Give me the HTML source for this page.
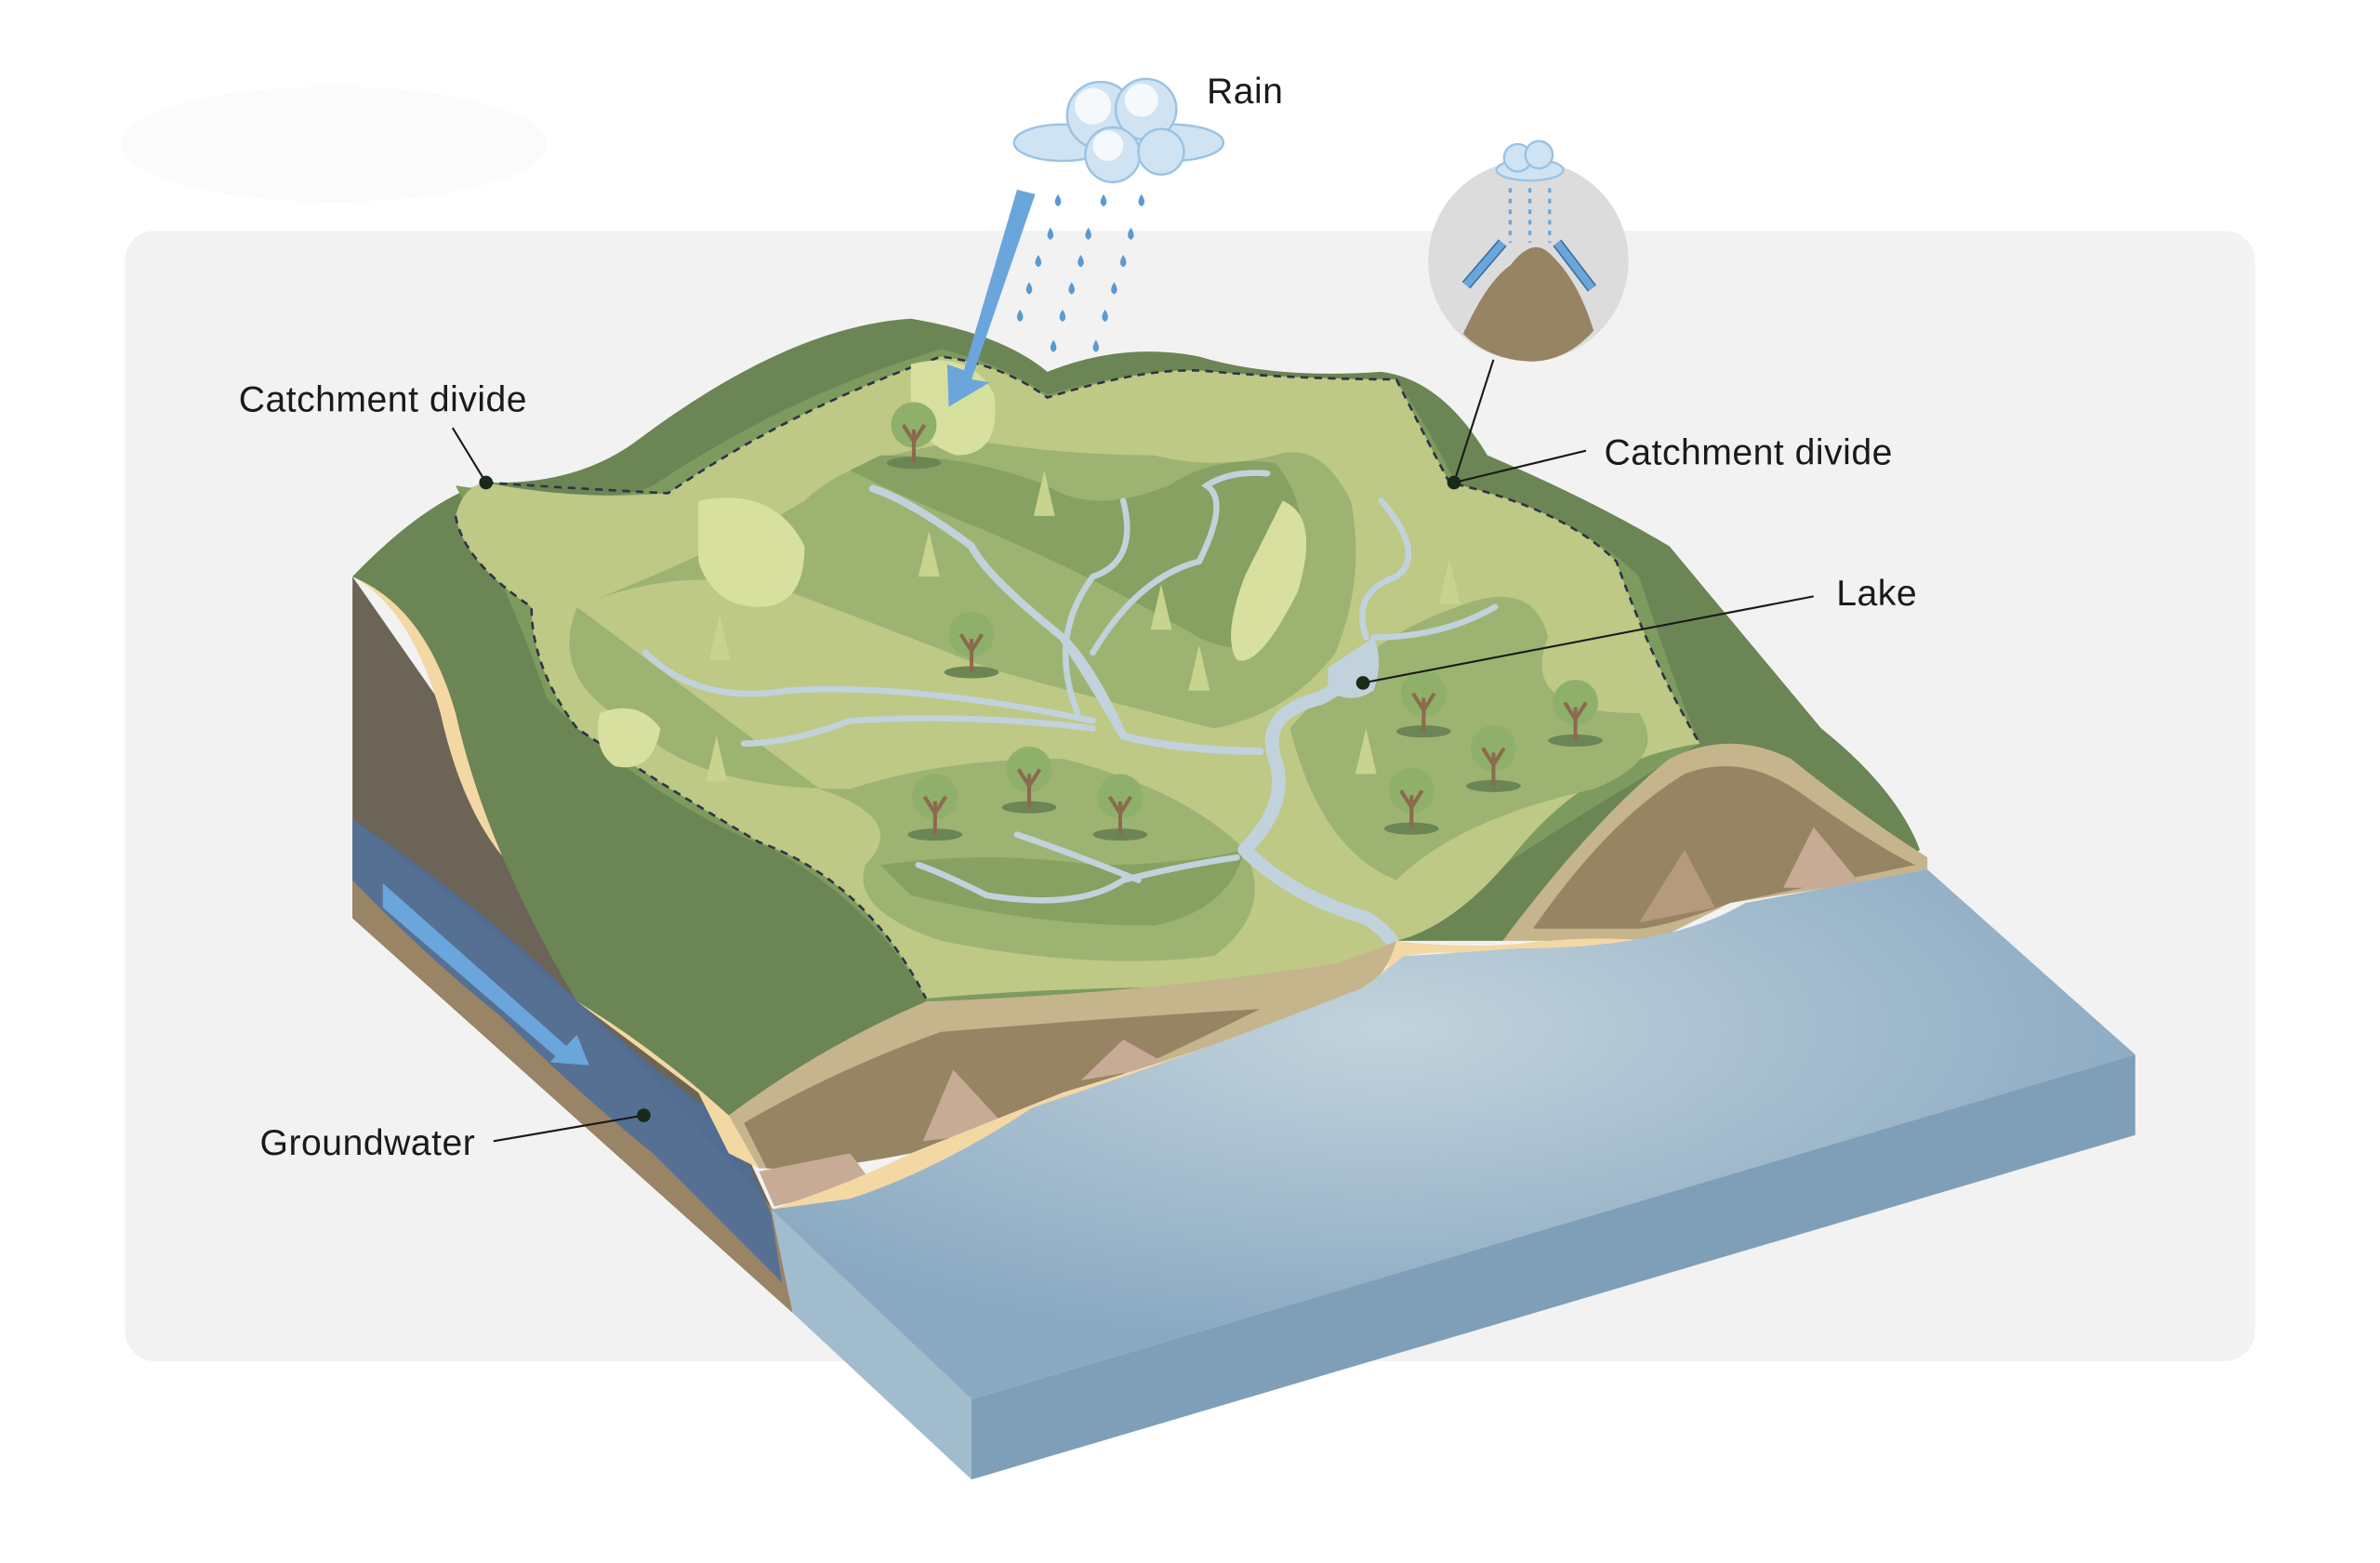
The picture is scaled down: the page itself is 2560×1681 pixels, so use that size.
<!DOCTYPE html>
<html><head><meta charset="utf-8"><style>
html,body{margin:0;padding:0;background:#fff;}
svg{display:block;}
text{font-family:"Liberation Sans",sans-serif;fill:#1a1a1a;font-size:24px;letter-spacing:0.3px;}
</style></head><body>
<svg width="2560" height="1681" viewBox="0 0 1568 1030" xmlns="http://www.w3.org/2000/svg">
<defs>
<radialGradient id="wr" cx="0.45" cy="0.3" r="0.6"><stop offset="0" stop-color="#c3d3dc"/><stop offset="1" stop-color="#89a9c2"/></radialGradient>
</defs>
<rect width="1568" height="1030" fill="#fff"/>
<ellipse cx="220" cy="95" rx="140" ry="38" fill="#fbfbfb"/>
<rect x="82" y="152" width="1404" height="745" rx="20" fill="#f2f2f2"/>

<path d="M232,380 L232,605 L522,865 L510,800 L480,735 Z" fill="#6c6457"/>
<path d="M232,540 L232,605 L522,865 L512,800 L420,700 Q360,640 232,540 Z" fill="#9a8466"/>
<path d="M232,540 Q300,585 360,640 Q420,700 480,740 L508,800 L515,845 Q470,800 430,760 Q380,720 330,670 Q280,630 232,580 Z" fill="#4f6e99" opacity="0.9"/>
<path d="M252,582 L385,700 L368,698 L252,598 Z" fill="#6aa6db"/>
<path d="M380,682 L388,702 L362,700 Z" fill="#6aa6db"/>
<path d="M232,380 Q270,400 290,470 Q310,560 360,590 Q375,620 380,660 Q420,690 460,720 L480,760 L500,770 L485,735 Q450,690 400,665 Q380,640 370,600 Q330,560 320,480 Q300,400 232,380 Z" fill="#f3d8a4"/>

<path d="M232,380 Q280,330 320,318 Q380,320 420,290 Q520,215 600,210 Q660,220 690,245 Q740,225 790,235 Q840,250 910,245 Q950,250 980,300 Q1050,330 1100,360 Q1150,420 1200,480 Q1250,520 1265,560 L1240,580 Q1150,560 1100,595 L990,620 L920,620 Q900,650 820,670 Q700,690 610,660 L500,740 L480,735 Q430,690 380,660 Q320,560 300,470 Q280,400 232,380 Z" fill="#6b8554"/>
<path d="M300,320 Q400,335 430,320 Q520,260 620,230 Q660,240 690,260 Q760,240 800,245 Q860,255 920,250 Q940,280 960,320 Q1040,340 1080,380 Q1110,470 1120,490 Q1000,560 920,620 Q880,650 820,660 Q700,660 610,660 Q580,600 510,560 Q430,530 360,460 Q340,400 300,320 Z" fill="#7d9a5f"/>
<path d="M320,318 Q380,330 440,325 Q520,270 620,235 Q660,240 690,262 Q760,240 800,245 Q860,250 920,250 Q940,290 955,318 Q1030,335 1065,370 Q1090,440 1120,490 Q1050,500 1000,560 Q960,610 920,620 Q880,640 820,650 Q700,650 610,658 Q570,580 500,555 Q440,520 380,480 Q350,440 350,400 Q305,370 300,340 Q305,320 320,318 Z" fill="#bdc985"/>
<path d="M320,318 Q380,322 440,325 Q520,270 620,235 Q660,240 690,262 Q760,240 800,245 Q860,250 920,250 Q940,290 955,318 Q1030,335 1065,370 Q1090,440 1120,490 M300,340 Q305,370 350,400 Q350,440 380,480 Q440,520 500,555 Q570,580 610,658" fill="none" stroke="#2f3346" stroke-width="1.6" stroke-dasharray="5,4"/>
<path d="M380,400 Q450,370 520,390 Q600,420 650,440 Q720,460 800,480 Q850,470 880,430 Q900,380 890,330 Q870,290 840,300 Q800,310 760,300 Q700,300 640,290 Q560,300 530,330 Q480,360 380,400 Z" fill="#9db372"/>
<path d="M380,400 Q360,450 420,480 Q460,520 560,520 Q620,500 700,500 Q780,520 820,560 Q840,600 800,630 Q720,640 620,620 Q560,600 570,570 Q600,540 540,520 Z" fill="#9db372"/>
<path d="M850,480 Q900,420 960,400 Q1010,380 1020,420 Q1000,470 1080,470 Q1100,500 1050,520 Q960,540 920,580 Q870,560 850,480 Z" fill="#9db372"/>
<path d="M560,310 Q600,330 650,350 Q720,380 790,420 Q830,440 850,400 Q870,340 840,305 Q800,300 770,320 Q720,340 690,320 Q640,300 580,300 Z" fill="#86a161"/>
<path d="M580,570 Q650,560 720,570 Q780,570 820,560 Q810,600 760,610 Q680,610 600,590 Z" fill="#86a161"/>
<path d="M460,330 Q510,320 530,360 Q530,400 500,400 Q470,400 460,370 Z" fill="#d7e09e"/>
<path d="M600,240 Q640,230 655,260 Q660,300 630,300 Q600,290 600,260 Z" fill="#d7e09e"/>
<path d="M395,470 Q420,460 435,480 Q430,510 405,505 Q390,495 395,470 Z" fill="#d7e09e"/>
<path d="M845,330 Q870,340 855,390 Q830,440 815,435 Q805,420 820,380 Z" fill="#d7e09e"/>
<g fill="none" stroke="#c2d2dc" stroke-linecap="round">
<path d="M820,560 Q850,530 840,500 Q830,470 870,460 Q890,450 900,435" stroke-width="9"/>
<path d="M820,560 Q850,590 900,605 Q925,620 920,640" stroke-width="9"/>
<path d="M830,495 Q780,495 740,485 Q720,450 700,420 Q650,380 640,360 Q600,330 575,322" stroke-width="5"/>
<path d="M740,485 Q720,440 700,420" stroke-width="5"/>
<path d="M720,480 Q640,470 560,475 Q520,490 490,490" stroke-width="4"/>
<path d="M720,475 Q600,450 520,455 Q460,465 425,430" stroke-width="4"/>
<path d="M710,470 Q690,420 720,380 Q750,370 740,330" stroke-width="4"/>
<path d="M720,430 Q750,380 790,370 Q810,330 795,320 Q810,310 835,312" stroke-width="4"/>
<path d="M900,420 Q890,390 920,380 Q940,365 910,330" stroke-width="4"/>
<path d="M905,420 Q950,420 985,400" stroke-width="4"/>
<path d="M815,565 Q780,570 740,580 Q710,600 650,590 Q620,575 605,570" stroke-width="4"/>
<path d="M750,580 Q700,560 670,550" stroke-width="4"/>
</g>
<path d="M875,440 Q890,430 905,420 Q912,435 905,455 Q890,465 875,455 Z" fill="#c2d2dc"/>
<g>
<g transform="translate(602,285)"><ellipse cx="0" cy="20" rx="18" ry="4" fill="#6b8554"/><circle cy="-5" r="15" fill="#8fb06a"/><path d="M0,20 V-2 M0,6 L-7,-5 M0,6 L7,-5" stroke="#8b6a4e" stroke-width="2.5" fill="none"/></g>
<g transform="translate(640,423)"><ellipse cx="0" cy="20" rx="18" ry="4" fill="#6b8554"/><circle cy="-5" r="15" fill="#8fb06a"/><path d="M0,20 V-2 M0,6 L-7,-5 M0,6 L7,-5" stroke="#8b6a4e" stroke-width="2.5" fill="none"/></g>
<g transform="translate(616,530)"><ellipse cx="0" cy="20" rx="18" ry="4" fill="#6b8554"/><circle cy="-5" r="15" fill="#8fb06a"/><path d="M0,20 V-2 M0,6 L-7,-5 M0,6 L7,-5" stroke="#8b6a4e" stroke-width="2.5" fill="none"/></g>
<g transform="translate(678,512)"><ellipse cx="0" cy="20" rx="18" ry="4" fill="#6b8554"/><circle cy="-5" r="15" fill="#8fb06a"/><path d="M0,20 V-2 M0,6 L-7,-5 M0,6 L7,-5" stroke="#8b6a4e" stroke-width="2.5" fill="none"/></g>
<g transform="translate(738,530)"><ellipse cx="0" cy="20" rx="18" ry="4" fill="#6b8554"/><circle cy="-5" r="15" fill="#8fb06a"/><path d="M0,20 V-2 M0,6 L-7,-5 M0,6 L7,-5" stroke="#8b6a4e" stroke-width="2.5" fill="none"/></g>
<g transform="translate(938,462)"><ellipse cx="0" cy="20" rx="18" ry="4" fill="#6b8554"/><circle cy="-5" r="15" fill="#8fb06a"/><path d="M0,20 V-2 M0,6 L-7,-5 M0,6 L7,-5" stroke="#8b6a4e" stroke-width="2.5" fill="none"/></g>
<g transform="translate(1038,468)"><ellipse cx="0" cy="20" rx="18" ry="4" fill="#6b8554"/><circle cy="-5" r="15" fill="#8fb06a"/><path d="M0,20 V-2 M0,6 L-7,-5 M0,6 L7,-5" stroke="#8b6a4e" stroke-width="2.5" fill="none"/></g>
<g transform="translate(984,498)"><ellipse cx="0" cy="20" rx="18" ry="4" fill="#6b8554"/><circle cy="-5" r="15" fill="#8fb06a"/><path d="M0,20 V-2 M0,6 L-7,-5 M0,6 L7,-5" stroke="#8b6a4e" stroke-width="2.5" fill="none"/></g>
<g transform="translate(930,526)"><ellipse cx="0" cy="20" rx="18" ry="4" fill="#6b8554"/><circle cy="-5" r="15" fill="#8fb06a"/><path d="M0,20 V-2 M0,6 L-7,-5 M0,6 L7,-5" stroke="#8b6a4e" stroke-width="2.5" fill="none"/></g>
<g fill="#c8d48e"><path d="M688,310 l-7,30 h14z"/><path d="M612,350 l-7,30 h14z"/><path d="M474,405 l-7,30 h14z"/><path d="M472,485 l-7,30 h14z"/><path d="M765,385 l-7,30 h14z"/><path d="M790,425 l-7,30 h14z"/><path d="M955,368 l-7,30 h14z"/><path d="M900,480 l-7,30 h14z"/></g>
</g>
<path d="M990,620 Q1050,540 1100,500 Q1140,480 1180,500 Q1230,540 1270,565 L1270,575 L1140,595 Q1110,610 1090,620 Z" fill="#c5b48c"/>
<path d="M1010,612 Q1060,540 1110,510 Q1150,495 1190,525 Q1240,560 1262,570 L1140,595 Q1100,610 1080,612 Z" fill="#978463"/>
<path d="M1080,608 L1110,560 L1130,598 Z" fill="#b59a7d"/><path d="M1175,585 L1195,545 L1228,585 Z" fill="#c8ab95"/>
<path d="M920,620 Q960,625 1000,622 Q1060,615 1100,622 L1150,595 L1270,573 L1263,578 Q1150,595 1120,615 Q1070,630 960,628 Q920,626 910,640 Z" fill="#f3d8a4"/>
<path d="M480,735 Q540,690 610,660 Q750,655 880,635 Q910,625 920,620 Q910,660 850,680 Q760,700 700,720 Q640,740 590,760 Q540,770 500,770 Z" fill="#c5b48c"/>
<path d="M490,740 Q550,705 620,680 Q740,670 830,665 Q760,700 700,725 Q650,745 600,760 Q540,772 505,770 Z" fill="#978463"/>
<path d="M608,752 L628,705 L665,745 Z" fill="#c8ab95"/><path d="M712,712 L740,685 L770,702 Z" fill="#c8ab95"/><path d="M500,772 L560,760 L575,780 L510,795 Z" fill="#c8ab95"/>
<path d="M508,797 Q560,780 600,760 Q650,740 700,720 Q800,690 880,660 Q915,645 920,625 L925,630 Q915,660 880,672 Q800,700 690,730 Q640,760 600,780 Q560,795 512,805 Z" fill="#f3d8a4"/>
<path d="M508,797 L560,790 Q620,770 680,730 Q800,690 900,650 L925,630 Q960,628 1000,625 Q1100,625 1150,595 L1270,573 L1407,695 L640,922 Z" fill="url(#wr)"/>
<path d="M640,922 L1407,695 L1407,748 L640,975 Z" fill="#7f9fb8"/>
<path d="M508,797 L640,922 L640,975 L522,865 Z" fill="#a1bccd"/>
<path d="M670,125 L682,128 L640,250 L652,252 L625,268 L624,240 L635,244 Z" fill="#6aa6db"/>
<g fill="#cfe3f3" stroke="#9cc3e2" stroke-width="1.5">
<ellipse cx="700" cy="94" rx="32" ry="12"/><ellipse cx="772" cy="94" rx="34" ry="12"/>
<circle cx="725" cy="76" r="22"/><circle cx="755" cy="72" r="20"/><circle cx="733" cy="102" r="18"/><circle cx="765" cy="100" r="15"/>
</g>
<g fill="#fff" opacity="0.8"><circle cx="720" cy="70" r="12"/><circle cx="752" cy="66" r="11"/><circle cx="730" cy="96" r="10"/></g>
<g fill="#5b9ad0">
<path d="M697,128 q-4,6 0,8 q4,-2 0,-8z"/><path d="M727,128 q-4,6 0,8 q4,-2 0,-8z"/><path d="M752,128 q-4,6 0,8 q4,-2 0,-8z"/>
<path d="M692,150 q-4,6 0,8 q4,-2 0,-8z"/><path d="M717,150 q-4,6 0,8 q4,-2 0,-8z"/><path d="M745,150 q-4,6 0,8 q4,-2 0,-8z"/>
<path d="M684,168 q-4,6 0,8 q4,-2 0,-8z"/><path d="M712,168 q-4,6 0,8 q4,-2 0,-8z"/><path d="M740,168 q-4,6 0,8 q4,-2 0,-8z"/>
<path d="M678,186 q-4,6 0,8 q4,-2 0,-8z"/><path d="M706,186 q-4,6 0,8 q4,-2 0,-8z"/><path d="M734,186 q-4,6 0,8 q4,-2 0,-8z"/>
<path d="M672,204 q-4,6 0,8 q4,-2 0,-8z"/><path d="M700,204 q-4,6 0,8 q4,-2 0,-8z"/><path d="M728,204 q-4,6 0,8 q4,-2 0,-8z"/>
<path d="M694,224 q-4,6 0,8 q4,-2 0,-8z"/><path d="M722,224 q-4,6 0,8 q4,-2 0,-8z"/>
</g>
<circle cx="1007" cy="172" r="66" fill="#dcdcdc"/>
<path d="M964,220 Q980,185 995,175 Q1010,155 1022,168 Q1040,185 1050,218 Q1030,240 1005,238 Q980,236 964,220 Z" fill="#978463"/>
<g fill="#cfe3f3" stroke="#9cc3e2" stroke-width="1.5"><ellipse cx="1008" cy="112" rx="22" ry="7"/><circle cx="1000" cy="104" r="9"/><circle cx="1014" cy="102" r="9"/></g>
<g stroke="#6aa6db" stroke-width="2" stroke-dasharray="3,4"><path d="M995,124 V160"/><path d="M1008,124 V160"/><path d="M1021,124 V160"/></g>
<path d="M990,160 L966,188" stroke="#3b6fa0" stroke-width="7"/><path d="M990,160 L966,188" stroke="#6aa6db" stroke-width="5"/>
<path d="M1026,160 L1049,190" stroke="#3b6fa0" stroke-width="7"/><path d="M1026,160 L1049,190" stroke="#6aa6db" stroke-width="5"/>
<g stroke="#1a1a1a" stroke-width="1.3" fill="none">
<path d="M320,318 L298,282"/><path d="M958,318 L984,237"/><path d="M958,318 L1045,297"/><path d="M898,450 L1195,393"/><path d="M424,735 L325,752"/>
</g>
<g fill="#1a2a1a"><circle cx="320" cy="318" r="4.5"/><circle cx="958" cy="318" r="4.5"/><circle cx="898" cy="450" r="4.5"/><circle cx="424" cy="735" r="4.5"/></g>
<text x="795" y="68">Rain</text>
<text x="157" y="271">Catchment divide</text>
<text x="1057" y="306">Catchment divide</text>
<text x="1210" y="399">Lake</text>
<text x="171" y="761">Groundwater</text>
</svg>
</body></html>
